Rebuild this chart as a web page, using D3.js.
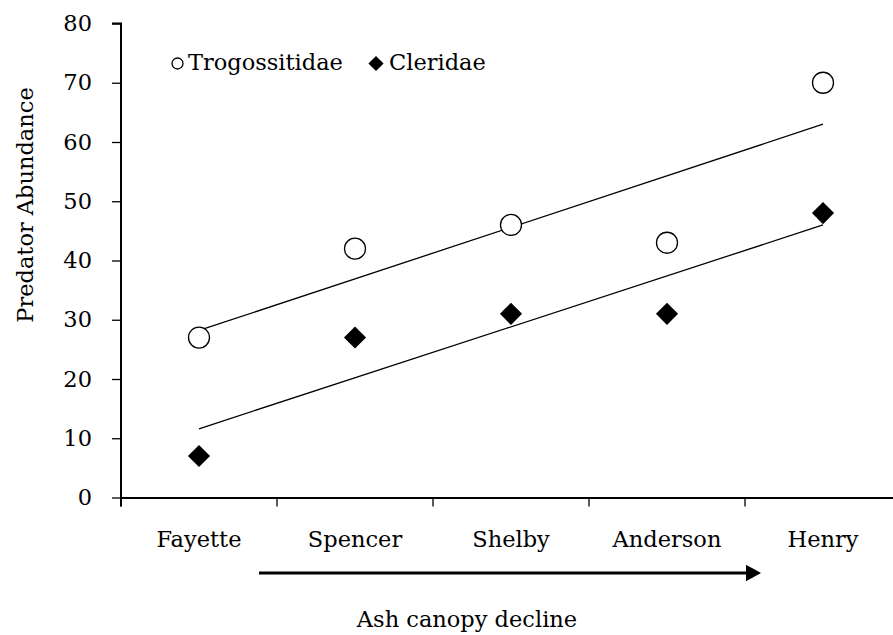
<!DOCTYPE html>
<html>
<head>
<meta charset="utf-8">
<script src="https://cdn.jsdelivr.net/npm/d3@7"></script>
<style>
  body { margin: 0; background: #fff; }
  svg { display: block; font-family: "DejaVu Serif", serif; }
</style>
</head>
<body>
<svg id="chart" width="893" height="635"></svg>
<script>
// counties, ordered by increasing ash canopy decline
const counties = ["Fayette", "Spencer", "Shelby", "Anderson", "Henry"];
const trogossitidae = [27, 42, 46, 43, 70];
const cleridae = [7, 27, 31, 31, 48];
const yTicks = [0, 10, 20, 30, 40, 50, 60, 70, 80];

const svg = d3.select("#chart");
const fontSize = 22.5;

// x axis runs past the right edge of the picture, as in the original
let x = d3.scaleBand().domain(counties).range([121, 901]);
let y = d3.scaleLinear().domain([0, 80]).range([497.5, 23.5]);

let cx = d => x(d) + x.bandwidth() / 2;

// simple least squares fit over the category index
function fit(vals) {
    let n = vals.length;
    let xs = vals.map((v, i) => i);
    let mx = d3.mean(xs), my = d3.mean(vals);
    let num = d3.sum(xs, (xi, i) => (xi - mx) * (vals[i] - my));
    let den = d3.sum(xs, xi => (xi - mx) * (xi - mx));
    let slope = num / den;
    let b = my - slope * mx;
    return [b, b + slope * (n - 1)];
}

// axes
let xAxis = d3.axisBottom(x).tickSize(0).tickFormat("");
let gx = svg.append("g").attr("transform", "translate(0," + y(0) + ")").call(xAxis);
gx.select(".domain").attr("stroke", "#000").attr("stroke-width", 2);

// x tick marks sit between categories
let bounds = counties.map(c => x(c)).concat([x(counties[counties.length - 1]) + x.bandwidth()]);
svg.append("g").selectAll("line")
    .data(bounds)
    .join("line")
    .attr("x1", d => d).attr("x2", d => d)
    .attr("y1", y(0)).attr("y2", y(0) + 9)
    .attr("stroke", "#000").attr("stroke-width", 1.3);

svg.append("g").selectAll("text")
    .data(counties)
    .join("text")
    .attr("x", d => cx(d))
    .attr("y", 547)
    .attr("text-anchor", "middle")
    .attr("font-size", fontSize)
    .text(d => d);

let yAxis = d3.axisLeft(y).tickValues(yTicks).tickSize(9).tickPadding(20);
let gy = svg.append("g").attr("transform", "translate(121,0)").call(yAxis);
gy.attr("font-family", null).attr("font-size", null);
gy.select(".domain").attr("stroke", "#000").attr("stroke-width", 2).attr("d", "M-9," + y(80) + "H0V" + (y(0) + 9));
gy.selectAll(".tick line").attr("stroke", "#000").attr("stroke-width", 1.3);
gy.selectAll(".tick text")
    .attr("font-size", fontSize)
    .attr("fill", "#000");

svg.append("text")
    .attr("transform", "translate(33,205) rotate(-90)")
    .attr("text-anchor", "middle")
    .attr("font-size", fontSize)
    .text("Predator Abundance");

// arrow under the categories
svg.append("defs").append("marker")
    .attr("id", "arrow")
    .attr("viewBox", "0 0 10 10")
    .attr("refX", 0).attr("refY", 5)
    .attr("markerWidth", 5).attr("markerHeight", 5.5)
    .attr("markerUnits", "strokeWidth")
    .attr("orient", "auto")
    .attr("preserveAspectRatio", "none")
    .append("path").attr("d", "M0,0L10,5L0,10Z").attr("fill", "#000");

svg.append("line")
    .attr("x1", 259).attr("x2", 746)
    .attr("y1", 573).attr("y2", 573)
    .attr("stroke", "#000").attr("stroke-width", 3)
    .attr("marker-end", "url(#arrow)");

svg.append("text")
    .attr("x", 467).attr("y", 627)
    .attr("text-anchor", "middle")
    .attr("font-size", fontSize)
    .text("Ash canopy decline");

// trend lines
let first = cx(counties[0]), last = cx(counties[counties.length - 1]);
[trogossitidae, cleridae].forEach(vals => {
    let [a, b] = fit(vals);
    svg.append("line")
        .attr("x1", first).attr("x2", last)
        .attr("y1", y(a)).attr("y2", y(b))
        .attr("stroke", "#000").attr("stroke-width", 1.3);
});

// markers
let diamond = d3.symbol().type(d3.symbolSquare);

svg.append("g").selectAll("circle")
    .data(trogossitidae)
    .join("circle")
    .attr("cx", (d, i) => cx(counties[i]))
    .attr("cy", d => y(d))
    .attr("r", 10.5)
    .attr("fill", "#fff")
    .attr("stroke", "#000")
    .attr("stroke-width", 1.3);

svg.append("g").selectAll("path")
    .data(cleridae)
    .join("path")
    .attr("d", diamond.size(245))
    .attr("transform", (d, i) => "translate(" + cx(counties[i]) + "," + y(d) + ") rotate(45)")
    .attr("fill", "#000");

// legend
let legend = svg.append("g");
legend.append("circle")
    .attr("cx", 177.5).attr("cy", 63.5).attr("r", 5.5)
    .attr("fill", "#fff").attr("stroke", "#000").attr("stroke-width", 1.3);
legend.append("text")
    .attr("x", 188).attr("y", 70)
    .attr("font-size", fontSize)
    .text("Trogossitidae");
legend.append("path")
    .attr("d", d3.symbol().type(d3.symbolSquare).size(115)())
    .attr("transform", "translate(376,63.5) rotate(45)")
    .attr("fill", "#000");
legend.append("text")
    .attr("x", 389).attr("y", 70)
    .attr("font-size", fontSize)
    .text("Cleridae");
</script>
</body>
</html>
